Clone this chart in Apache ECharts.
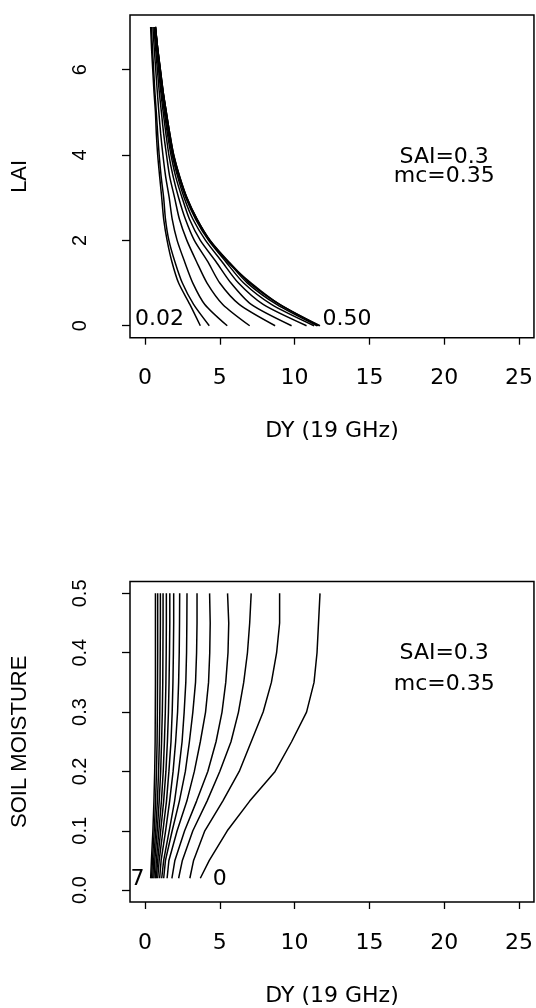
<!DOCTYPE html>
<html>
<head>
<meta charset="utf-8">
<script src="https://cdn.jsdelivr.net/npm/echarts@6/dist/echarts.min.js"></script>
<style>
  html, body { margin: 0; padding: 0; background: #fff; }
  #main { width: 536px; height: 1008px; }
</style>
</head>
<body>
<div id="main"></div>
<script>
// LAI levels (one curve each in the lower panel)
const lai = [0, 0.5, 1, 1.5, 2, 2.5, 3, 3.5, 4, 4.5, 5, 5.5, 6, 6.5, 7]
// soil moisture levels (one curve each in the upper panel)
const soilMoisture = [0.02, 0.05, 0.10, 0.15, 0.20, 0.25, 0.30, 0.35, 0.40, 0.45, 0.50]
// DY (19 GHz), one row per LAI, one column per soil moisture
const dy = [
  [3.70, 4.30, 5.50, 7.00, 8.70, 9.80, 10.80, 11.30, 11.50, 11.60, 11.70],
  [3.00, 3.25, 4.00, 5.20, 6.30, 7.10, 7.90, 8.45, 8.80, 9.00, 9.00],
  [2.25, 2.50, 3.20, 4.15, 5.00, 5.75, 6.25, 6.60, 6.85, 7.00, 7.10],
  [1.80, 2.00, 2.65, 3.45, 4.20, 4.75, 5.15, 5.40, 5.55, 5.60, 5.52],
  [1.48, 1.60, 2.15, 2.80, 3.30, 3.70, 4.05, 4.25, 4.33, 4.36, 4.32],
  [1.25, 1.37, 1.82, 2.30, 2.70, 2.97, 3.20, 3.38, 3.45, 3.48, 3.48],
  [1.12, 1.25, 1.62, 1.98, 2.25, 2.48, 2.62, 2.73, 2.78, 2.80, 2.81],
  [0.98, 1.08, 1.38, 1.65, 1.88, 2.05, 2.18, 2.25, 2.29, 2.31, 2.32],
  [0.85, 0.95, 1.20, 1.44, 1.60, 1.74, 1.82, 1.87, 1.90, 1.92, 1.92],
  [0.76, 0.85, 1.05, 1.25, 1.40, 1.50, 1.57, 1.61, 1.64, 1.66, 1.66],
  [0.70, 0.76, 0.93, 1.10, 1.22, 1.30, 1.36, 1.40, 1.42, 1.43, 1.43],
  [0.60, 0.66, 0.82, 0.95, 1.05, 1.11, 1.16, 1.19, 1.20, 1.21, 1.21],
  [0.52, 0.58, 0.72, 0.83, 0.91, 0.96, 0.99, 1.01, 1.02, 1.03, 1.03],
  [0.44, 0.50, 0.62, 0.71, 0.77, 0.81, 0.83, 0.84, 0.85, 0.85, 0.85],
  [0.38, 0.43, 0.53, 0.60, 0.65, 0.68, 0.69, 0.70, 0.70, 0.70, 0.70]
]
const xTicks = [0, 5, 10, 15, 20, 25]
const laiTicks = [0, 2, 4, 6]
const smTicks = [0, 0.1, 0.2, 0.3, 0.4, 0.5]
// text annotations: [DY, y, text]
const topNotes = [[0.97, 0.16, '0.02'], [13.5, 0.16, '0.50'], [20.0, 3.94, 'SAI=0.3'], [20.0, 3.5, 'mc=0.35']]
const bottomNotes = [[-0.5, 0.018, '7'], [5.0, 0.018, '0'], [20.0, 0.399, 'SAI=0.3'], [20.0, 0.346, 'mc=0.35']]

const hFont = 'DejaVu Sans'
const vFont = 'Liberation Sans'

const chart = echarts.init(document.getElementById('main'))

function xAxisFor(gridIndex) {
  return {
    type: 'value', gridIndex: gridIndex, min: -1, max: 26,
    name: 'DY (19 GHz)', nameLocation: 'middle', nameGap: 83,
    nameTextStyle: {color: '#000', fontFamily: hFont, fontSize: 22},
    axisLine: {show: false, onZero: false},
    splitLine: {show: false},
    axisTick: {show: true, customValues: xTicks, length: 7, lineStyle: {color: '#000', width: 1.3}},
    axisLabel: {customValues: xTicks, margin: 30, color: '#000', fontFamily: hFont, fontSize: 22}
  }
}

function yAxisFor(gridIndex, name, min, max, ticks, digits, gap) {
  return {
    type: 'value', gridIndex: gridIndex, min: min, max: max,
    name: name, nameLocation: 'middle', nameGap: gap, nameRotate: 90,
    nameTextStyle: {color: '#000', fontFamily: vFont, fontSize: 22},
    axisLine: {show: false, onZero: false},
    splitLine: {show: false},
    axisTick: {show: true, customValues: ticks, length: 8, lineStyle: {color: '#000', width: 1.3}},
    axisLabel: {
      customValues: ticks, rotate: 90, margin: 40, color: '#000',
      fontFamily: vFont, fontSize: 20,
      formatter: v => v.toFixed(digits)
    }
  }
}

function noteSeries(notes, idx) {
  return {
    type: 'scatter', xAxisIndex: idx, yAxisIndex: idx, symbolSize: 0, silent: true,
    itemStyle: {opacity: 1},
    data: notes.map(n => ({value: [n[0], n[1]], name: n[2]})),
    label: {show: true, position: 'inside', formatter: '{b}', color: '#000', opacity: 1, fontFamily: hFont, fontSize: 22}
  }
}

const series = []
soilMoisture.forEach((s, j) => {
  series.push({
    type: 'line', xAxisIndex: 0, yAxisIndex: 0, showSymbol: false, silent: true,
    smooth: 0.25,
    lineStyle: {color: '#000', width: 1.5},
    data: lai.map((l, i) => [dy[i][j], l])
  })
})
lai.forEach((l, i) => {
  series.push({
    type: 'line', xAxisIndex: 1, yAxisIndex: 1, showSymbol: false, silent: true,
    lineStyle: {color: '#000', width: 1.5},
    data: soilMoisture.map((s, j) => [dy[i][j], s])
  })
})
series.push(noteSeries(topNotes, 0))
series.push(noteSeries(bottomNotes, 1))

chart.setOption({
  backgroundColor: '#fff',
  animation: false,
  grid: [
    {left: 130, right: 1, top: 15, height: 322.7, show: true, borderColor: '#000', borderWidth: 1.5},
    {left: 130, right: 1, top: 581.5, height: 322.3, show: true, borderColor: '#000', borderWidth: 1.5}
  ],
  xAxis: [xAxisFor(0), xAxisFor(1)],
  yAxis: [
    yAxisFor(0, 'LAI', -0.28, 7.28, laiTicks, 0, 99),
    yAxisFor(1, 'SOIL MOISTURE', -0.02, 0.52, smTicks, 1, 99)
  ],
  series: series
})
</script>
</body>
</html>
